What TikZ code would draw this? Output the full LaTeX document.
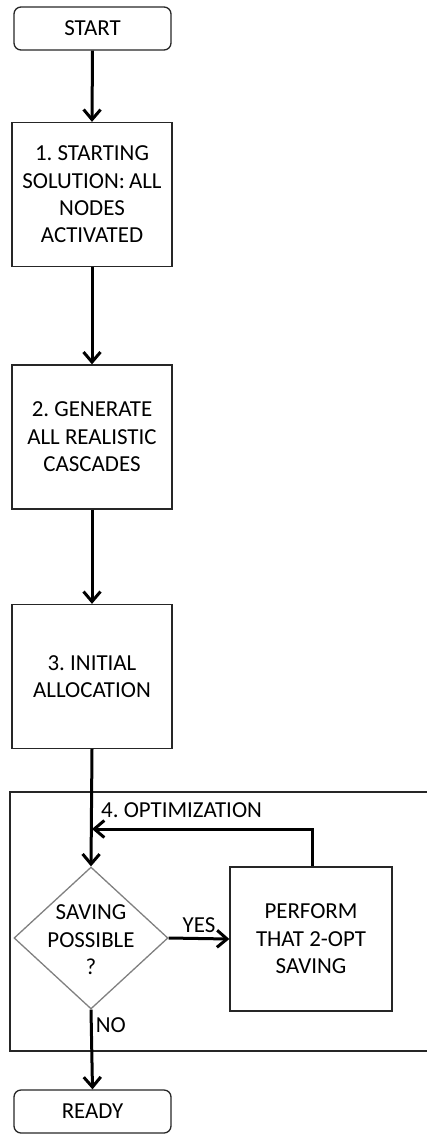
\documentclass[tikz,border=0pt]{standalone}
\usepackage{fontspec}
\setmainfont{Carlito}
\usetikzlibrary{arrows.meta,shapes.geometric}
\begin{document}
\frenchspacing
\begin{tikzpicture}[x=1bp,y=-1bp,
  every node/.style={font=\fontsize{23}{27.5}\selectfont, text=black},
  termbox/.style={draw=black!85, line width=1.3bp, rounded corners=7bp, minimum width=157bp, minimum height=43bp, inner sep=0pt},
  procbox/.style={draw=black!85, line width=1.3bp, minimum width=160bp, minimum height=144bp, align=center, inner sep=0pt},
  flowarrow/.style={line width=3bp, -{Straight Barb[length=10bp,width=17bp,line width=3bp]}},
  lbl/.style={inner sep=0pt}
]
\useasboundingbox (0,0) rectangle (426,1135);
% outer optimization frame
\draw[black!85, line width=1.3bp] (430,792) -- (10,792) -- (10,1051) -- (430,1051);
\node[lbl, anchor=west] (opt) at (101,810) {4. OPTIMIZATION};

\node[termbox] (start) at (92.5,28.5) {START};
\node[procbox] (s1) at (92,194.5) {1. STARTING\\SOLUTION:\hspace{-1bp} ALL\\NODES\\ACTIVATED};
\node[procbox] (s2) at (92,437) {2. GENERATE\\ALL REALISTIC\\CASCADES};
\node[procbox] (s3) at (92,676.5) {3. INITIAL\\ALLOCATION};
\node[diamond, draw=black!50, line width=1.3bp, minimum width=154bp, minimum height=142bp, inner sep=0pt, align=center, aspect=1.08] (dec) at (91,938) {};
\node[lbl, align=center] (dectext) at (91,940) {SAVING\\POSSIBLE\\?};
\node[procbox, minimum width=162bp] (perf) at (311,939) {PERFORM\\THAT 2-OPT\\SAVING};
\node[termbox] (ready) at (92.5,1111.5) {READY};
\coordinate (merge) at (92,829);
\coordinate (loopc) at (312,829);

\draw[flowarrow] (start.south) -- (s1.north);
\draw[flowarrow] (s1.south) -- (s2.north);
\draw[flowarrow] (s2.south) -- (s3.north);
\draw[flowarrow] (s3.south) -- (dec.north);
\draw[flowarrow] (dec.east) -- node[lbl, above=4bp] (yes) {YES} (perf.west);
\draw[flowarrow] (dec.south) -- node[lbl, pos=0.2, anchor=west, xshift=3bp] (no) {NO} (ready.north);
\draw[flowarrow] (perf.north -| loopc) -- (loopc) -- (merge);
\end{tikzpicture}
\end{document}
